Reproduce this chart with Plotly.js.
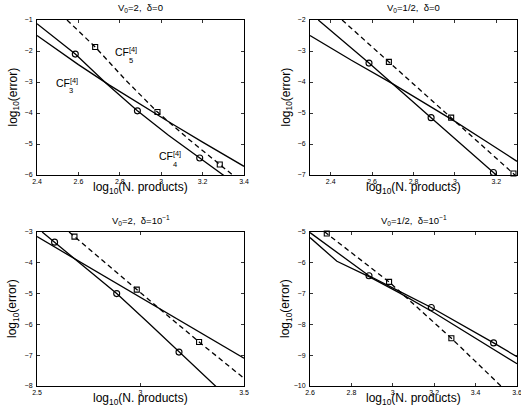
<!DOCTYPE html>
<html><head><meta charset="utf-8">
<script src="https://cdn.plot.ly/plotly-3.0.1.min.js"></script>
<style>html,body{margin:0;padding:0;background:#fff}#chart{width:521px;height:406px}</style>
</head><body><div id="chart"></div>
<script>
// ---------- Panel A: V0=2, delta=0 ----------
const aCF3x = [2.4, 2.5, 2.6, 2.75, 2.9, 3.05, 3.2, 3.4];
const aCF3y = [-1.5, -1.98, -2.44, -3.1, -3.73, -4.34, -4.94, -5.72];
const aCF4x = [2.4, 2.585, 2.735, 2.885, 3.035, 3.186, 3.32];
const aCF4y = [-1.12, -2.1, -3.05, -3.93, -4.72, -5.45, -6.1];
const aCF5x = [2.545, 2.681, 2.83, 2.982, 3.13, 3.283, 3.36];
const aCF5y = [-1.0, -1.87, -2.95, -3.97, -4.83, -5.66, -6.08];
const aCircX = [2.585, 2.885, 3.186];
const aCircY = [-2.1, -3.93, -5.45];
const aSqX = [2.681, 2.982, 3.283];
const aSqY = [-1.87, -3.97, -5.66];
const aXticks = [2.4, 2.6, 2.8, 3, 3.2, 3.4];
const aYticks = [-6, -5, -4, -3, -2, -1];

// ---------- Panel B: V0=1/2, delta=0 ----------
const bCF3x = [2.3, 2.5, 2.7, 2.85, 3.0, 3.15, 3.3];
const bCF3y = [-2.5, -3.3, -4.06, -4.66, -5.27, -5.91, -6.56];
const bCF4x = [2.34, 2.585, 2.885, 3.186, 3.21];
const bCF4y = [-2.0, -3.39, -5.15, -6.92, -7.06];
const bCF5x = [2.455, 2.681, 2.982, 3.283, 3.31];
const bCF5y = [-2.0, -3.35, -5.15, -6.95, -7.12];
const bCircX = [2.585, 2.885, 3.186];
const bCircY = [-3.39, -5.15, -6.92];
const bSqX = [2.681, 2.982, 3.283];
const bSqY = [-3.35, -5.15, -6.95];
const bXticks = [2.4, 2.6, 2.8, 3, 3.2];
const bYticks = [-7, -6, -5, -4, -3, -2];

// ---------- Panel C: V0=2, delta=1e-1 ----------
const cCF3x = [2.5, 2.69, 2.9, 3.09, 3.3, 3.5];
const cCF3y = [-3.15, -3.9, -4.73, -5.48, -6.31, -7.1];
const cCF4x = [2.525, 2.585, 2.735, 2.885, 3.035, 3.186, 3.37];
const cCF4y = [-3.0, -3.33, -4.15, -5.0, -5.93, -6.9, -8.05];
const cCF5x = [2.655, 2.681, 2.982, 3.283, 3.5];
const cCF5y = [-3.0, -3.15, -4.87, -6.57, -7.75];
const cCircX = [2.585, 2.885, 3.186];
const cCircY = [-3.33, -5.0, -6.9];
const cSqX = [2.681, 2.982, 3.283];
const cSqY = [-3.15, -4.87, -6.57];
const cXticks = [2.5, 3, 3.5];
const cYticks = [-8, -7, -6, -5, -4, -3];

// ---------- Panel D: V0=1/2, delta=1e-1 ----------
const dCF3x = [2.6, 2.73, 2.885, 3.03, 3.2, 3.4, 3.6];
const dCF3y = [-5.18, -5.95, -6.45, -6.97, -7.62, -8.45, -9.28];
const dCF4x = [2.6, 2.74, 2.885, 3.03, 3.186, 3.487, 3.6];
const dCF4y = [-5.02, -5.72, -6.42, -6.92, -7.45, -8.6, -9.05];
const dCF5x = [2.67, 2.681, 2.982, 3.283, 3.53];
const dCF5y = [-4.99, -5.05, -6.62, -8.45, -10.05];
const dCircX = [2.885, 3.186, 3.487];
const dCircY = [-6.42, -7.45, -8.6];
const dSqX = [2.681, 2.982, 3.283];
const dSqY = [-5.05, -6.62, -8.45];
const dXticks = [2.6, 2.8, 3, 3.2, 3.4, 3.6];
const dYticks = [-10, -9, -8, -7, -6, -5];

const titles = ['V<sub>0</sub>=2,  δ=0', 'V<sub>0</sub>=1/2,  δ=0',
                'V<sub>0</sub>=2,  δ=10<sup>−1</sup>', 'V<sub>0</sub>=1/2,  δ=10<sup>−1</sup>'];
const xTitle = 'log<sub>10</sub>(N. products)';
const yTitle = 'log<sub>10</sub>(error)';

const panels = [
  {cf3:[aCF3x,aCF3y], cf4:[aCF4x,aCF4y], cf5:[aCF5x,aCF5y], circ:[aCircX,aCircY], sq:[aSqX,aSqY], xr:[2.4,3.4], yr:[-6,-1], xt:aXticks, yt:aYticks},
  {cf3:[bCF3x,bCF3y], cf4:[bCF4x,bCF4y], cf5:[bCF5x,bCF5y], circ:[bCircX,bCircY], sq:[bSqX,bSqY], xr:[2.3,3.3], yr:[-7,-2], xt:bXticks, yt:bYticks},
  {cf3:[cCF3x,cCF3y], cf4:[cCF4x,cCF4y], cf5:[cCF5x,cCF5y], circ:[cCircX,cCircY], sq:[cSqX,cSqY], xr:[2.5,3.5], yr:[-8,-3], xt:cXticks, yt:cYticks},
  {cf3:[dCF3x,dCF3y], cf4:[dCF4x,dCF4y], cf5:[dCF5x,dCF5y], circ:[dCircX,dCircY], sq:[dSqX,dSqY], xr:[2.6,3.6], yr:[-10,-5], xt:dXticks, yt:dYticks}
];

const W = 521, H = 406;
// pixel boxes [left, right, top, bottom]
const boxes = [[37,244,20,175],[310,517,20,175],[37,244,232,386],[310,517,232,386]];

const traces = [];
const layout = {
  width: W, height: H, margin: {l:0, r:0, t:0, b:0},
  paper_bgcolor: '#fff', plot_bgcolor: '#fff', showlegend: false,
  font: {family: 'Liberation Sans, Arial, Helvetica, sans-serif', color: '#000'},
  annotations: []
};

panels.forEach((p, i) => {
  const n = i + 1;
  const xa = 'x' + (n === 1 ? '' : n), ya = 'y' + (n === 1 ? '' : n);
  const b = boxes[i];
  const ax = {
    showgrid: false, zeroline: false, showline: true, linecolor: '#000', linewidth: 1,
    mirror: 'ticks', ticks: 'inside', ticklen: 3, tickwidth: 0.8, tickcolor: '#000',
    tickfont: {size: 7, color: '#000'}, fixedrange: true, ticklabeloverflow: 'allow'
  };
  layout['xaxis' + (n === 1 ? '' : n)] = Object.assign({}, ax, {
    domain: [b[0]/W, b[1]/W], anchor: ya, range: p.xr, tickmode: 'array', tickvals: p.xt, ticklabelstandoff: 0
  });
  layout['yaxis' + (n === 1 ? '' : n)] = Object.assign({}, ax, {
    domain: [1 - b[3]/H, 1 - b[2]/H], anchor: xa, range: p.yr, tickmode: 'array', tickvals: p.yt, ticklabelstandoff: 2
  });
  const ln = {color: '#000', width: 1.3};
  traces.push({x: p.cf3[0], y: p.cf3[1], xaxis: xa, yaxis: ya, mode: 'lines', line: ln, hoverinfo: 'skip'});
  traces.push({x: p.cf4[0], y: p.cf4[1], xaxis: xa, yaxis: ya, mode: 'lines', line: ln, hoverinfo: 'skip'});
  traces.push({x: p.cf5[0], y: p.cf5[1], xaxis: xa, yaxis: ya, mode: 'lines', line: {color: '#000', width: 1.3, dash: '5px,3.5px'}, hoverinfo: 'skip'});
  traces.push({x: p.circ[0], y: p.circ[1], xaxis: xa, yaxis: ya, mode: 'markers', cliponaxis: false,
    marker: {symbol: 'circle-open', size: 6, color: '#000', line: {width: 1.1, color: '#000'}}, hoverinfo: 'skip'});
  traces.push({x: p.sq[0], y: p.sq[1], xaxis: xa, yaxis: ya, mode: 'markers', cliponaxis: false,
    marker: {symbol: 'square-open', size: 5, color: '#000', line: {width: 1.1, color: '#000'}}, hoverinfo: 'skip'});

  const cx = (b[0] + b[1]) / 2 / W;
  layout.annotations.push({text: titles[i], xref: 'paper', yref: 'paper', x: cx, y: 1 - (b[2] - 12)/H,
    showarrow: false, font: {size: 9.5, color: '#000'}, xanchor: 'center', yanchor: 'middle'});
  layout.annotations.push({text: xTitle, xref: 'paper', yref: 'paper', x: cx, y: 1 - (b[3] + 13)/H,
    showarrow: false, font: {size: 12, color: '#000'}, xanchor: 'center', yanchor: 'middle'});
  layout.annotations.push({text: yTitle, xref: 'paper', yref: 'paper', x: (b[0] - 24)/W, y: 1 - (b[2] + b[3])/2/H,
    showarrow: false, font: {size: 12, color: '#000'}, textangle: -90, xanchor: 'center', yanchor: 'middle'});
});

// CF labels in panel A
const labelX = [2.766, 2.482, 2.978];
const labelY = [-2.0, -3.0, -5.37];
const labelSub = ['5', '3', '4'];
const subX = [2.855, 2.565, 3.065];
const subY = [-2.3, -3.28, -5.66];
labelSub.forEach((s, k) => {
  layout.annotations.push({text: 'CF<sup>[4]</sup>', xref: 'x', yref: 'y', x: labelX[k], y: labelY[k],
    showarrow: false, font: {size: 10.5, color: '#000'}, xanchor: 'left', yanchor: 'middle'});
  layout.annotations.push({text: s, xref: 'x', yref: 'y', x: subX[k], y: subY[k],
    showarrow: false, font: {size: 7.5, color: '#000'}, xanchor: 'center', yanchor: 'middle'});
});

Plotly.newPlot('chart', traces, layout, {staticPlot: true, displayModeBar: false});
</script></body></html>
